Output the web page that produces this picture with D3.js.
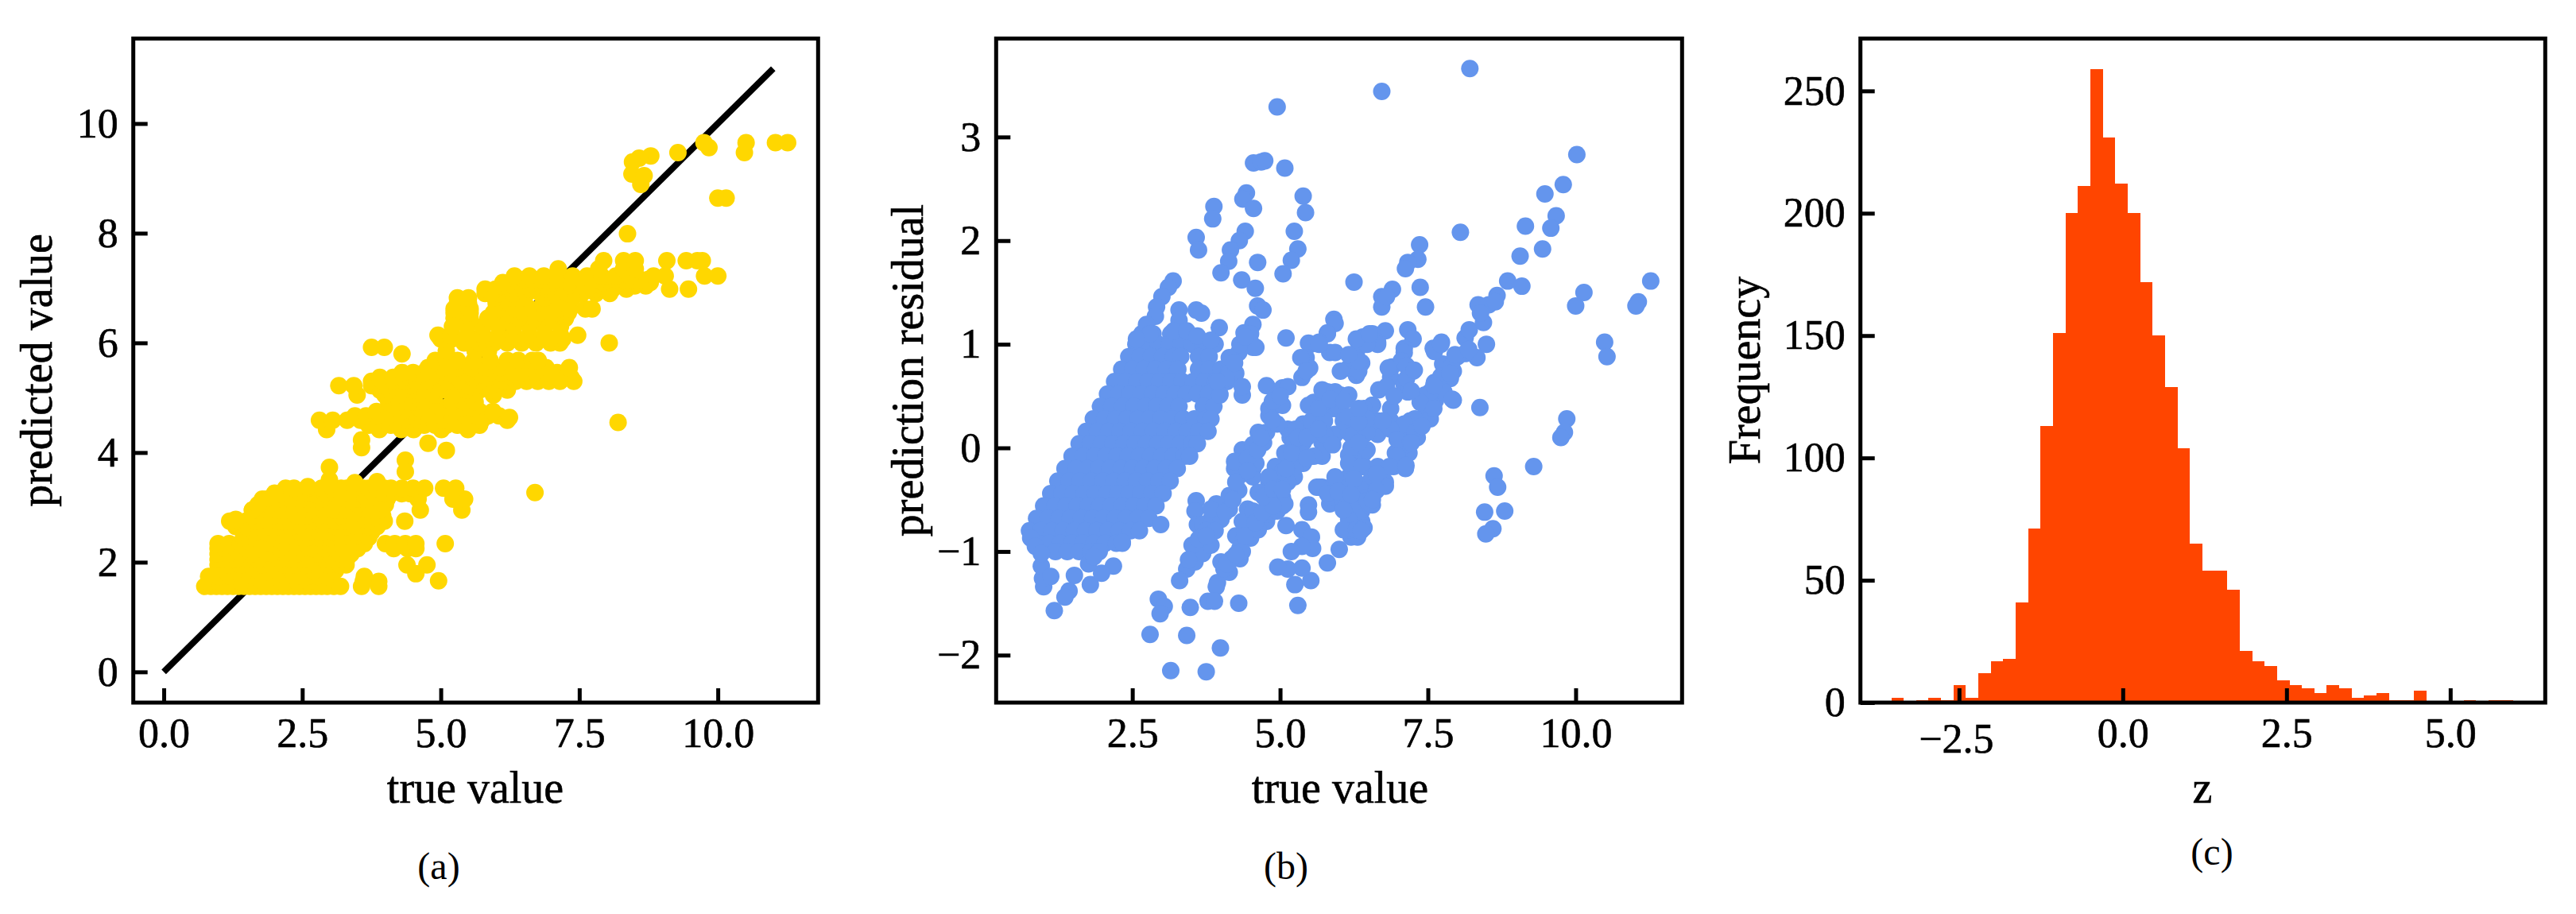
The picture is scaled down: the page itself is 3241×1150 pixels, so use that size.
<!DOCTYPE html>
<html>
<head>
<meta charset="utf-8">
<script src="https://cdn.jsdelivr.net/npm/d3@7"></script>
<style>
	html, body { margin: 0; padding: 0; background: #fff; }
	svg { display: block; }
	text { font-family: "Liberation Serif", serif; fill: #000; stroke: #000; stroke-width: 0.6px; }
	.tick text { font-size: 52px; }
	.tick line { stroke: #000; stroke-width: 5px; }
	.label { font-size: 56px; text-anchor: middle; }
	.caption { font-size: 48px; text-anchor: middle; stroke-width: 0; }
</style>
</head>
<body>
<div id="chart"></div>
<script>
//tick values and labels
var aXTicks = [0, 2.5, 5, 7.5, 10], aXLabels = ["0.0", "2.5", "5.0", "7.5", "10.0"];
var aYTicks = [0, 2, 4, 6, 8, 10], aYLabels = ["0", "2", "4", "6", "8", "10"];
var bXTicks = [2.5, 5, 7.5, 10], bXLabels = ["2.5", "5.0", "7.5", "10.0"];
var bYTicks = [-2, -1, 0, 1, 2, 3], bYLabels = ["\u22122", "\u22121", "0", "1", "2", "3"];
var cXTicks = [-2.5, 0, 2.5, 5], cXLabels = ["\u22122.5", "0.0", "2.5", "5.0"];
var cYTicks = [0, 50, 100, 150, 200, 250], cYLabels = ["0", "50", "100", "150", "200", "250"];

var identityLine = [[0, 0], [11, 11]];

//panel a, dense part read row by row: [predicted, [true values]]
var aRows = [
	[1.56, [0.74, 0.85, 0.95, 1.05, 1.15, 1.25, 1.35, 1.45, 1.55, 1.65, 1.75, 1.85, 1.95, 2.05, 2.15, 2.25, 2.35, 2.45, 2.55, 2.65, 2.75, 2.85, 2.95, 3.07, 3.19, 3.57, 3.88]],
	[1.65, [0.81, 1.0, 1.2, 1.4, 1.6, 1.8, 2.0, 2.2, 2.4, 2.6, 2.8, 2.9, 3.6, 3.88]],
	[1.74, [0.81, 1.0, 1.2, 1.4, 1.6, 1.8, 2.0, 2.2, 2.4, 2.6, 2.8, 2.92, 3.62]],
	[1.85, [0.98, 1.1, 1.3, 1.5, 1.7, 1.9, 2.1, 2.3, 2.5, 2.7, 2.9, 3.1]],
	[1.95, [0.98, 1.18, 1.38, 1.58, 1.78, 1.98, 2.18, 2.38, 2.58, 2.78, 2.98, 3.18, 3.29, 4.39, 4.75]],
	[2.05, [0.98, 1.1, 1.3, 1.5, 1.7, 1.9, 2.1, 2.3, 2.5, 2.7, 2.9, 3.1, 3.3]],
	[2.15, [0.98, 1.18, 1.38, 1.58, 1.78, 1.98, 2.18, 2.38, 2.58, 2.78, 2.98, 3.18, 3.38]],
	[2.25, [0.98, 1.1, 1.3, 1.5, 1.7, 1.9, 2.1, 2.3, 2.5, 2.7, 2.9, 3.1, 3.3, 3.5, 4.15, 4.4, 4.55]],
	[2.34, [0.98, 1.18, 1.38, 1.58, 1.78, 1.98, 2.18, 2.38, 2.58, 2.78, 2.98, 3.18, 3.38, 3.62, 4.0, 4.17, 4.36, 4.55, 5.08]],
	[2.45, [1.44, 1.6, 1.8, 2.0, 2.2, 2.4, 2.6, 2.8, 3.0, 3.2, 3.4, 3.6, 3.7]],
	[2.55, [1.44, 1.64, 1.84, 2.04, 2.24, 2.44, 2.64, 2.84, 3.04, 3.24, 3.44, 3.75]],
	[2.65, [1.3, 1.5, 1.7, 1.9, 2.1, 2.3, 2.5, 2.7, 2.9, 3.1, 3.3, 3.5, 3.7, 3.85]],
	[2.75, [1.19, 1.3, 1.48, 1.68, 1.88, 2.08, 2.28, 2.48, 2.68, 2.88, 3.08, 3.28, 3.48, 3.68, 3.98, 4.35]],
	[2.85, [1.6, 1.8, 2.0, 2.2, 2.4, 2.6, 2.8, 3.0, 3.2, 3.4, 3.6, 3.8, 3.95]],
	[2.95, [1.6, 1.68, 1.88, 2.08, 2.28, 2.48, 2.68, 2.88, 3.08, 3.28, 3.48, 3.68, 3.9, 4.63, 5.38]],
	[3.05, [1.72, 1.9, 2.1, 2.3, 2.5, 2.7, 2.9, 3.1, 3.3, 3.5, 3.7, 3.8, 4.0]],
	[3.15, [1.78, 1.85, 2.05, 2.28, 2.48, 2.68, 2.88, 3.08, 3.28, 3.48, 3.68, 3.88, 4.03, 4.59, 5.22, 5.43]],
	[3.25, [2.1, 2.3, 2.5, 2.7, 2.9, 3.1, 3.2, 3.4, 3.6, 3.8, 4.0, 4.1, 4.3, 4.45, 4.6]],
	[3.35, [2.2, 2.35, 2.6, 2.85, 3.05, 3.2, 3.3, 3.45, 3.6, 3.7, 3.85, 3.98, 4.1, 4.3, 4.5, 4.71, 5.05, 5.27]],
	[4.42, [2.94, 3.89, 4.29, 4.51, 5.01, 5.49]],
	[4.5, [3.7, 3.9, 4.1, 4.3, 4.5, 4.7, 4.9, 5.1, 5.3, 5.5, 5.7]],
	[4.59, [2.81, 3.05, 3.31, 3.55, 3.77, 3.98, 4.2, 4.42, 4.64, 4.86, 5.08, 5.3, 5.52, 5.74, 6.2]],
	[4.67, [3.45, 3.65, 3.85, 4.05, 4.25, 4.45, 4.65, 4.85, 5.05, 5.25, 5.45, 5.65, 5.85, 6.05]],
	[4.75, [3.84, 4.06, 4.28, 4.5, 4.72, 4.94, 5.18, 5.46, 5.7, 5.94]],
	[4.82, [4.2, 4.4, 4.6, 4.8, 5.0, 5.2, 5.4, 5.6]],
	[4.92, [4.06, 4.25, 4.47, 4.7, 5.2, 5.42, 5.62]],
	[5.05, [3.49, 3.99, 4.25, 4.48, 4.7, 4.9, 5.24, 5.53, 5.95]],
	[5.14, [3.9, 4.1, 4.3, 4.5, 4.7, 4.9, 5.1, 5.3, 5.5, 5.7, 5.9, 6.2]],
	[5.22, [3.16, 3.43, 3.75, 3.99, 4.19, 4.45, 4.71, 4.97, 5.23, 5.49, 5.75, 6.1]],
	[5.3, [3.75, 3.95, 4.15, 4.35, 4.55, 4.75, 4.95, 5.15, 5.35, 5.55, 5.75, 5.95, 6.15, 6.35, 6.55, 6.75, 6.95, 7.15, 7.4]],
	[5.37, [3.9, 4.14, 4.33, 4.54, 4.8, 5.06, 5.32, 5.58, 5.84, 6.1, 6.41, 6.76, 7.12, 7.35]],
	[5.46, [4.3, 4.5, 4.7, 4.9, 5.1, 5.3, 5.5, 5.7, 5.9, 6.1, 6.3, 6.5, 6.7, 6.9, 7.1, 7.3]],
	[5.55, [4.77, 5.04, 5.3, 5.56, 5.82, 6.08, 6.3, 6.6, 6.9, 7.32]],
	[5.68, [4.9, 5.1, 5.3, 5.6, 5.89, 6.2, 6.4, 6.65, 6.76]],
	[5.85, [5.1, 5.62, 5.86]],
	[6.0, [5.42, 5.7, 5.96, 6.2, 6.46, 6.72, 6.98, 7.15, 8.04]],
	[6.07, [5.0, 5.2, 5.4, 5.6, 5.8, 6.0, 6.2, 6.4, 6.6, 6.8, 7.0, 7.2]],
	[6.14, [4.95, 5.18, 5.76, 6.04, 6.32, 6.6, 6.88, 7.16, 7.47]],
	[6.3, [5.21, 5.48, 5.76, 6.04, 6.32, 6.6, 6.88, 7.16]],
	[6.45, [5.24, 5.53, 5.85, 6.13, 6.41, 6.69, 6.97, 7.25]],
	[6.55, [5.24, 5.53, 5.95, 6.2, 6.5, 6.8, 7.1, 7.3]],
	[6.62, [5.24, 5.53, 6.06, 6.34, 6.62, 6.88, 7.15, 7.33, 7.61, 7.73]],
	[6.72, [5.3, 5.5, 6.0, 6.25, 6.5, 6.85, 7.1]],
	[6.82, [5.3, 5.5, 5.98, 6.24, 6.5, 6.86, 7.12, 7.38]],
	[6.9, [5.8, 6.05, 6.3, 6.55, 6.8, 7.05, 7.3, 7.55, 7.8, 8.05]],
	[6.98, [5.8, 5.99, 6.3, 6.6, 6.9, 7.2, 7.5, 7.8, 8.1, 8.35, 9.13, 9.47]],
	[7.04, [6.1, 6.3, 6.5, 6.7, 6.9, 7.1, 7.3, 7.5, 7.7, 7.9, 8.1, 8.3, 8.5, 8.7]],
	[7.1, [6.12, 6.42, 6.72, 7.02, 7.32, 7.62, 7.92, 8.22, 8.52, 8.78]],
	[7.16, [6.5, 6.65, 6.8, 6.95, 7.1, 7.25, 7.4, 7.55, 7.7, 7.85, 8.0, 8.15, 8.3, 8.45, 8.6, 8.75]],
	[7.22, [6.33, 6.6, 6.86, 7.12, 7.38, 7.64, 7.9, 8.16, 8.42, 8.84, 9.05, 9.76, 10.0]],
	[7.35, [7.85, 8.3, 8.51]],
	[7.5, [7.94, 8.3, 8.51, 9.08, 9.43, 9.63, 9.72]]
];

//panel a, loose points
var aLoose = [
	[10.51, 9.65], [10.48, 9.47], [11.04, 9.65], [11.26, 9.65], [9.84, 9.56], [9.75, 9.65], [9.28, 9.47],
	[8.79, 9.41], [8.58, 9.37], [8.46, 9.3], [8.45, 9.08], [8.67, 9.05], [8.61, 8.89], [10.0, 8.64], [10.15, 8.64],
	[8.37, 7.99], [8.2, 4.55], [6.7, 3.27], [3.75, 5.92], [3.98, 5.92], [4.3, 5.8], [3.57, 4.09], [3.57, 4.23],
	[4.77, 4.17], [5.1, 4.04], [4.36, 3.86], [4.36, 3.65], [2.99, 3.73], [2.99, 3.5], [4.96, 1.66], [4.55, 1.79],
	[6.24, 4.64], [7.12, 7.35], [1.3, 2.78], [1.6, 2.95], [1.7, 3.05], [2.0, 3.26], [2.6, 3.38], [3.45, 3.45], [3.85, 3.47]
];

//panel b, dense part read row by row: [residual, [true values]]
var bRows = [
	[1.1, [2.66, 2.85, 3.15, 3.3, 3.45]],
	[1.0, [2.56, 2.75, 2.94, 3.13, 3.32, 3.51, 3.7, 3.9]],
	[0.88, [2.44, 2.63, 2.82, 3.01, 3.2, 3.32, 3.62, 3.8]],
	[0.76, [2.32, 2.51, 2.7, 2.89, 3.08, 3.27, 3.62, 3.8, 4.0, 4.14]],
	[0.64, [2.2, 2.39, 2.58, 2.77, 2.96, 3.15, 3.34, 3.53, 3.72, 3.91, 4.1]],
	[0.52, [2.08, 2.27, 2.46, 2.65, 2.84, 3.03, 3.22, 3.41, 3.6, 3.79, 3.98]],
	[0.4, [1.96, 2.15, 2.34, 2.53, 2.72, 2.91, 3.1, 3.29, 3.7, 3.88]],
	[0.28, [1.84, 2.03, 2.22, 2.41, 2.6, 2.79, 2.98, 3.17, 3.36, 3.55, 3.74, 3.83]],
	[0.16, [1.72, 1.91, 2.1, 2.29, 2.48, 2.67, 2.86, 3.05, 3.24, 3.43, 3.62, 3.78]],
	[0.04, [1.6, 1.79, 1.98, 2.17, 2.36, 2.55, 2.74, 2.93, 3.12, 3.31, 3.5, 3.6]],
	[-0.08, [1.48, 1.67, 1.86, 2.05, 2.24, 2.43, 2.62, 2.81, 3.0, 3.19, 3.38, 3.47]],
	[-0.2, [1.36, 1.55, 1.74, 1.93, 2.12, 2.31, 2.5, 2.69, 2.88, 3.07, 3.26]],
	[-0.32, [1.24, 1.43, 1.62, 1.81, 2.0, 2.19, 2.38, 2.57, 2.76, 2.95, 3.14]],
	[-0.44, [1.12, 1.31, 1.5, 1.69, 1.88, 2.07, 2.26, 2.45, 2.64, 2.83, 3.02]],
	[-0.56, [1.0, 1.19, 1.38, 1.57, 1.76, 1.95, 2.14, 2.33, 2.52, 2.71, 2.9]],
	[-0.68, [0.88, 1.07, 1.26, 1.45, 1.64, 1.83, 2.02, 2.21, 2.4, 2.59, 2.78]],
	[-0.8, [0.76, 0.95, 1.14, 1.33, 1.52, 1.71, 1.9, 2.09, 2.28, 2.47, 2.62]],
	[-0.92, [0.9, 1.09, 1.28, 1.47, 1.66, 1.85, 2.04, 2.23, 2.33]],
	[-1.0, [1.2, 1.4, 1.6, 1.8, 1.94]],
	//lower right block
	[0.26, [6.2, 6.42, 6.65, 6.87, 7.2, 7.45]],
	[0.13, [6.2, 6.42, 6.65, 7.05, 7.28]],
	[-0.05, [6.2, 6.42, 6.95, 7.18]],
	[-0.18, [6.2, 6.42, 6.65, 6.92, 7.12]],
	[-0.33, [6.2, 6.65, 6.78]],
	[-0.46, [6.2, 6.38, 6.56]],
	[-0.61, [6.2, 6.38]],
	[-0.74, [6.2, 6.38]],
	[-0.86, [6.2, 6.31]]
];

//panel b, loose points and the strands between the dense blocks
var bLoose = [
	[4.95, 3.29], [6.72, 3.44], [8.21, 3.66], [4.55, 2.75], [4.68, 2.76], [4.74, 2.77], [5.08, 2.7], [4.43, 2.46], [4.37, 2.4], [4.55, 2.31],
	[3.88, 2.33], [3.86, 2.21], [5.39, 2.43], [5.43, 2.27], [4.41, 2.09], [4.31, 2.0], [4.16, 1.91], [4.13, 1.8], [4.0, 1.69], [3.58, 2.03], [3.62, 1.91],
	[5.24, 2.09], [5.3, 1.92], [5.19, 1.81], [5.05, 1.68], [4.62, 1.79], [6.25, 1.6], [4.35, 1.62], [4.58, 1.54], [4.62, 1.37], [4.71, 1.33], [4.54, 1.19],
	[4.39, 1.11], [4.5, 1.02], [4.34, 1.0], [3.97, 1.16], [3.19, 1.61], [3.11, 1.55], [3.0, 1.46], [2.91, 1.36], [2.89, 1.27], [2.74, 1.19], [3.29, 1.33],
	[3.58, 1.33], [3.67, 1.3], [5.1, 1.06], [5.91, 1.24], [5.8, 1.11], [5.51, 1.0], [6.72, 1.46], [6.72, 1.36], [10.02, 2.83], [9.79, 2.54], [9.48, 2.45],
	[9.67, 2.24], [9.58, 2.12], [9.15, 2.14], [9.44, 1.92], [9.06, 1.85], [8.05, 2.08], [7.36, 1.96], [7.33, 1.82], [7.16, 1.79], [7.12, 1.73], [8.85, 1.61],
	[9.09, 1.56], [8.67, 1.47], [11.27, 1.61], [10.14, 1.5], [10.0, 1.37], [11.06, 1.41], [11.02, 1.37], [6.9, 1.53], [6.8, 1.46], [7.37, 1.55], [7.46, 1.36],
	[10.49, 1.02], [10.53, 0.88], [7.16, 1.14], [7.25, 1.05], [6.78, 1.13], [6.56, 1.1], [6.4, 1.07], [6.65, 1.02], [7.73, 1.02], [7.59, 0.96], [8.49, 1.0],
	[8.13, 1.06], [8.2, 1.14], [8.35, 1.38], [8.53, 1.38], [8.64, 1.41], [8.44, 1.21], [8.39, 1.3], [7.1, 0.96], [9.85, 0.28], [9.81, 0.15], [9.75, 0.1],
	[9.29, -0.18], [8.38, 0.39], [8.62, -0.27], [8.68, -0.38], [8.46, -0.62], [8.8, -0.61], [8.6, -0.78], [8.48, -0.83], [7.93, 0.46], [8.33, 0.87], [8.13, 0.91],
	[8.0, 0.88], [7.75, 0.81], [7.61, 0.93], [7.93, 0.74], [7.88, 0.67], [7.61, 0.63], [7.45, 0.51], [7.59, 0.41], [7.45, 0.31], [7.27, 0.18], [7.32, 0.1],
	[7.05, 0.13], [7.12, 0.03], [7.12, -0.2], [6.78, -0.37], [6.56, -0.55], [7.25, 0.74], [6.89, 0.78], [6.87, 0.68], [7.1, 0.61], [7.1, 0.92], [7.05, 0.84],
	[7.16, 0.54], [6.67, 0.56], [6.87, 0.38], [6.56, 0.41], [6.33, 0.28], [6.58, 0.26], [6.83, 0.21], [6.38, 0.82], [6.29, 0.7], [6.65, 1.0], [4.41, 1.1],
	[4.3, 0.92], [4.54, 0.97], [4.14, 0.72], [4.25, 0.72], [3.98, 0.51], [4.77, 0.6], [5.04, 0.58], [4.36, 0.51], [4.36, 0.59], [4.92, 0.41], [4.81, 0.31],
	[4.63, 0.15], [4.36, -0.02], [4.23, -0.2], [4.54, -0.2], [4.14, -0.46], [3.92, -0.54], [3.58, -0.51], [3.56, -0.61], [3.6, -0.74], [3.83, -0.69], [3.69, -0.94],
	[3.56, -1.02], [3.42, -1.17], [3.3, -1.28], [4.45, -0.59], [4.63, -0.69], [4.77, -0.71], [4.25, -0.85], [4.5, -0.87], [4.32, -0.97], [4.0, -1.1], [4.32, -1.07],
	[4.14, -1.2], [3.94, -1.3], [3.92, -1.34], [3.78, -1.48], [3.89, -1.48], [4.3, -1.5], [2.94, -1.46], [3.04, -1.53], [2.97, -1.6], [3.48, -1.54], [2.8, -1.8],
	[3.42, -1.81], [3.99, -1.93], [3.15, -2.15], [3.75, -2.16], [2.98, -0.74], [2.33, -0.91], [1.18, -1.57], [1.79, -1.32], [2.18, -1.14], [1.98, -1.21], [1.52, -1.23],
	[1.43, -1.38], [1.36, -1.44], [1.0, -1.34], [0.98, -1.26], [0.96, -1.14], [1.12, -1.24], [1.76, -1.12], [1.85, -1.05], [0.78, -0.87], [0.86, -0.95], [0.96, -1.02],
	[5.3, -1.52], [5.25, -1.32], [5.52, -1.28], [5.37, -1.16], [5.13, -1.17], [4.96, -1.15], [5.8, -1.11], [6.0, -0.98], [5.1, -0.75], [5.37, -0.79], [5.53, -0.86],
	[5.55, -0.97], [5.37, -0.95], [5.19, -1.0], [5.48, -0.55], [5.48, -0.62], [4.81, -0.33], [5.04, -0.48], [4.86, -0.48], [5.04, -0.56], [4.81, -0.41], [4.9, -0.25],
	[5.24, -0.28], [4.92, -0.18], [5.39, -0.15], [5.17, -0.15], [5.17, 0.1], [5.39, 0.05], [5.71, -0.08], [5.71, 0.05], [5.13, 0.18], [5.39, 0.23], [5.57, 0.44],
	[5.8, 0.54], [6.02, 0.51], [5.89, 0.38], [5.62, 0.31], [6.02, 0.36], [5.93, 0.13], [6.16, 0.15], [6.42, 0.23], [6.56, 0.41], [6.51, 1.07], [6.29, 0.92],
	[6.16, 0.77], [6.33, 0.74], [6.02, 0.74], [5.84, 0.92], [5.93, 1.2], [5.8, 1.1], [5.66, 1.02], [5.48, 1.01], [5.44, 0.87], [5.5, 0.77], [5.37, 0.68],
	[5.71, -0.38], [5.62, -0.38], [5.84, -0.54], [6.02, -0.48], [5.93, -0.33], [6.16, -0.28], [6.33, -0.02], [6.25, -0.18], [6.16, -0.07], [6.29, -0.41], [6.29, -0.56],
	[6.38, -0.71], [6.29, -0.85], [6.16, -0.79], [6.51, -0.33],
	[3.56, -1.1], [3.69, -1.02], [3.83, -0.94], [3.51, -0.94], [3.69, -0.74], [3.83, -0.74], [4.0, -0.69], [3.83, -0.59], [4.14, -0.59], [4.3, -0.41], [4.36, -0.25],
	[4.54, -0.28], [4.59, -0.15], [4.23, -0.13], [4.54, 0.03], [4.72, 0.05], [4.77, 0.15], [4.95, 0.23], [4.81, 0.38], [5.04, 0.41], [4.95, 0.51], [5.13, 0.59],
	[4.18, -1.07], [4.05, -1.17], [4.36, -1.0], [4.5, -0.79], [4.63, -0.79], [4.36, -0.71], [4.54, -0.61], [4.81, -0.64], [4.95, -0.61], [5.08, -0.54], [4.63, -0.43],
	[4.81, -0.51], [4.95, -0.33], [5.13, -0.33], [5.04, -0.23], [4.81, -0.28], [5.26, -0.18], [5.08, -0.05], [5.35, -0.05], [5.57, -0.08], [5.22, 0.05], [5.53, 0.13],
	[5.75, 0.13], [5.89, 0.03], [5.26, 0.18], [5.53, 0.26], [5.75, 0.26], [5.48, 0.41], [5.75, 0.44], [5.98, 0.41], [5.71, 0.56], [5.93, 0.54], [6.16, 0.51],
	[6.07, 0.26], [6.25, 0.31], [6.42, 0.38], [6.25, 0.13], [6.47, 0.15], [6.2, 0.0], [6.47, -0.02], [5.66, -0.38], [5.89, -0.38], [6.16, -0.38], [6.38, -0.38],
	[5.84, -0.48], [6.07, -0.51], [6.29, -0.66], [6.16, -0.69], [6.07, -0.79], [6.29, -0.79], [6.42, -0.77], [6.47, -0.48], [5.93, -0.28], [6.16, -0.15], [6.38, -0.18],
	[6.56, -0.28], [5.35, 0.87], [5.44, 0.74], [5.66, 1.0], [5.93, 0.92], [6.33, 0.84], [6.47, 1.0], [6.16, 0.9], [6.29, 1.05], [6.51, 1.1],
	[7.45, 0.41], [7.63, 0.46], [7.77, 0.54], [7.72, 0.69], [7.9, 0.79], [7.54, 0.54], [7.37, 0.44], [7.28, 0.28], [7.54, 0.28], [7.1, 0.23], [6.87, 0.18], [7.28, 0.15],
	[6.98, 0.08], [7.2, 0.05], [6.47, 0.28], [6.74, 0.26], [6.33, 0.05], [6.98, -0.08], [6.85, -0.18], [6.63, -0.25], [6.63, -0.41], [6.29, -0.51], [6.47, -0.51],
	[7.14, 0.79], [6.83, 0.77], [6.8, 0.59], [6.93, 0.5], [7.14, 0.67],
	[4.14, 0.87], [4.32, 1.0], [4.5, 1.1], [4.59, 0.97], [4.23, 0.82], [4.09, 0.67], [3.94, 0.64], [4.41, 1.07],
	[3.29, 1.23], [3.2, 1.13], [3.42, 1.13], [3.6, 1.08], [3.83, 1.04], [2.8, 1.1], [2.57, 1.05],
	[3.75, -0.8], [3.9, -0.8], [3.45, -1.08], [3.62, -0.88], [3.75, -0.85], [4.07, -0.62], [4.2, -0.5], [4.25, -0.33], [4.45, -0.1], [4.45, -0.22], [4.62, -0.02],
	[4.68, 0.1], [4.87, 0.27], [4.87, 0.45], [5.0, 0.5], [4.1, -1.12], [4.25, -1.03], [4.4, -0.85], [4.58, -0.72], [4.7, -0.62], [4.88, -0.56], [4.72, -0.47],
	[4.88, -0.4], [5.04, -0.4], [5.1, -0.2], [5.2, -0.05], [5.45, -0.1], [5.3, 0.1], [5.45, 0.1], [5.65, 0.18], [5.65, 0.38], [5.85, 0.47], [6.08, 0.45],
	[6.15, 0.3], [6.33, 0.25], [6.33, 0.38], [5.8, -0.44], [5.98, -0.42], [6.25, -0.3], [6.07, -0.6], [6.2, -0.45], [7.27, 0.75], [7.22, 0.55], [7.6, 0.6],
	[7.87, 0.72], [7.96, 0.9], [8.19, 0.95], [7.72, 1.0], [7.91, 0.47], [7.6, 0.38], [7.4, 0.21], [7.22, 0.05], [7.13, -0.17], [6.56, -0.5], [6.37, -0.8]
];

//panel c histogram
var binStart = -3.535, binWidth = 0.19;
var binCounts = [2, 0, 1, 2, 1, 7, 2, 12, 17, 18, 41, 71, 113, 151, 200, 211, 259, 231, 212, 200, 172, 150, 129, 104, 65, 54, 54, 46, 21, 17, 15, 9, 7, 6, 4, 7, 6, 2, 3, 4, 1, 1, 5, 0, 0, 0, 1, 0, 1, 1];

function rowsToPoints(rows) {
	var points = [];
	rows.forEach(function(row) {
		row[1].forEach(function(x) { points.push([x, row[0]]); });
	});
	return points;
}

var svg = d3.select("#chart").append("svg")
	.attr("width", 3241)
	.attr("height", 1150);

var DOT_R = 11;
var TOP = 48.5, BOTTOM = 884;

function makePanel(left, right, xDomain, yDomain) {
	var panel = {};
	panel.left = left;
	panel.right = right;
	panel.g = svg.append("g");
	panel.x = d3.scaleLinear().domain(xDomain).range([left, right]);
	panel.y = d3.scaleLinear().domain(yDomain).range([BOTTOM, TOP]);
	return panel;
}

function drawDots(panel, points, color) {
	panel.g.append("g")
		.selectAll("circle")
		.data(points)
		.enter().append("circle")
		.attr("cx", function(d) { return panel.x(d[0]); })
		.attr("cy", function(d) { return panel.y(d[1]); })
		.attr("r", DOT_R)
		.attr("fill", color);
}

function drawAxes(panel, xTicks, xLabels, yTicks, yLabels) {
	var xAxis = d3.axisBottom(panel.x)
		.tickValues(xTicks)
		.tickFormat(function(d, i) { return xLabels[i]; })
		.tickSize(-18)
		.tickPadding(19);
	var yAxis = d3.axisLeft(panel.y)
		.tickValues(yTicks)
		.tickFormat(function(d, i) { return yLabels[i]; })
		.tickSize(-18)
		.tickPadding(19);

	panel.xAxisG = panel.g.append("g")
		.attr("transform", "translate(0," + BOTTOM + ")")
		.call(xAxis);
	panel.yAxisG = panel.g.append("g")
		.attr("transform", "translate(" + panel.left + ",0)")
		.call(yAxis);
	panel.g.selectAll(".domain").remove();

	panel.g.append("rect")
		.attr("x", panel.left)
		.attr("y", TOP)
		.attr("width", panel.right - panel.left)
		.attr("height", BOTTOM - TOP)
		.attr("fill", "none")
		.attr("stroke", "#000")
		.attr("stroke-width", 5);
}

function addText(cls, str, x, y, rotate) {
	var t = svg.append("text")
		.attr("class", cls)
		.text(str);
	if (rotate) {
		t.attr("transform", "translate(" + x + "," + y + ") rotate(-90)");
	} else {
		t.attr("x", x).attr("y", y);
	}
}

// panel (a)
var panelA = makePanel(167.7, 1029.3, [-0.55, 11.81], [-0.56, 11.55]);
var line = d3.line()
	.x(function(d) { return panelA.x(d[0]); })
	.y(function(d) { return panelA.y(d[1]); });
panelA.g.append("path")
	.datum(identityLine)
	.attr("d", line)
	.attr("fill", "none")
	.attr("stroke", "#000")
	.attr("stroke-width", 8);
drawDots(panelA, rowsToPoints(aRows).concat(aLoose), "#FFD700");
drawAxes(panelA, aXTicks, aXLabels, aYTicks, aYLabels);
addText("label", "true value", 598, 1010);
addText("label", "predicted value", 65, 466, true);
addText("caption", "(a)", 552, 1106);

// panel (b)
var panelB = makePanel(1253.3, 2116.3, [0.196, 11.8], [-2.458, 3.95]);
drawDots(panelB, rowsToPoints(bRows).concat(bLoose), "#6495ED");
drawAxes(panelB, bXTicks, bXLabels, bYTicks, bYLabels);
addText("label", "true value", 1686, 1010);
addText("label", "prediction residual", 1161, 466, true);
addText("caption", "(b)", 1618, 1106);

// panel (c)
var panelC = makePanel(2340.7, 3202.3, [-4.006, 6.45], [0, 271.4]);
panelC.g.append("g")
	.selectAll("rect")
	.data(binCounts)
	.enter().append("rect")
	.attr("x", function(d, i) { return panelC.x(binStart + i * binWidth); })
	.attr("y", function(d) { return panelC.y(d); })
	.attr("width", panelC.x(binWidth) - panelC.x(0))
	.attr("height", function(d) { return BOTTOM - panelC.y(d); })
	.attr("fill", "#FF4500")
	.attr("shape-rendering", "crispEdges");
drawAxes(panelC, cXTicks, cXLabels, cYTicks, cYLabels);
//the negative label sits a little lower in the original
panelC.xAxisG.selectAll(".tick text")
	.filter(function(d) { return d < 0; })
	.attr("dx", -4)
	.attr("y", 26);
addText("label", "z", 2771, 1010);
addText("label", "Frequency", 2214, 466, true);
addText("caption", "(c)", 2783, 1088);
</script>
</body>
</html>
